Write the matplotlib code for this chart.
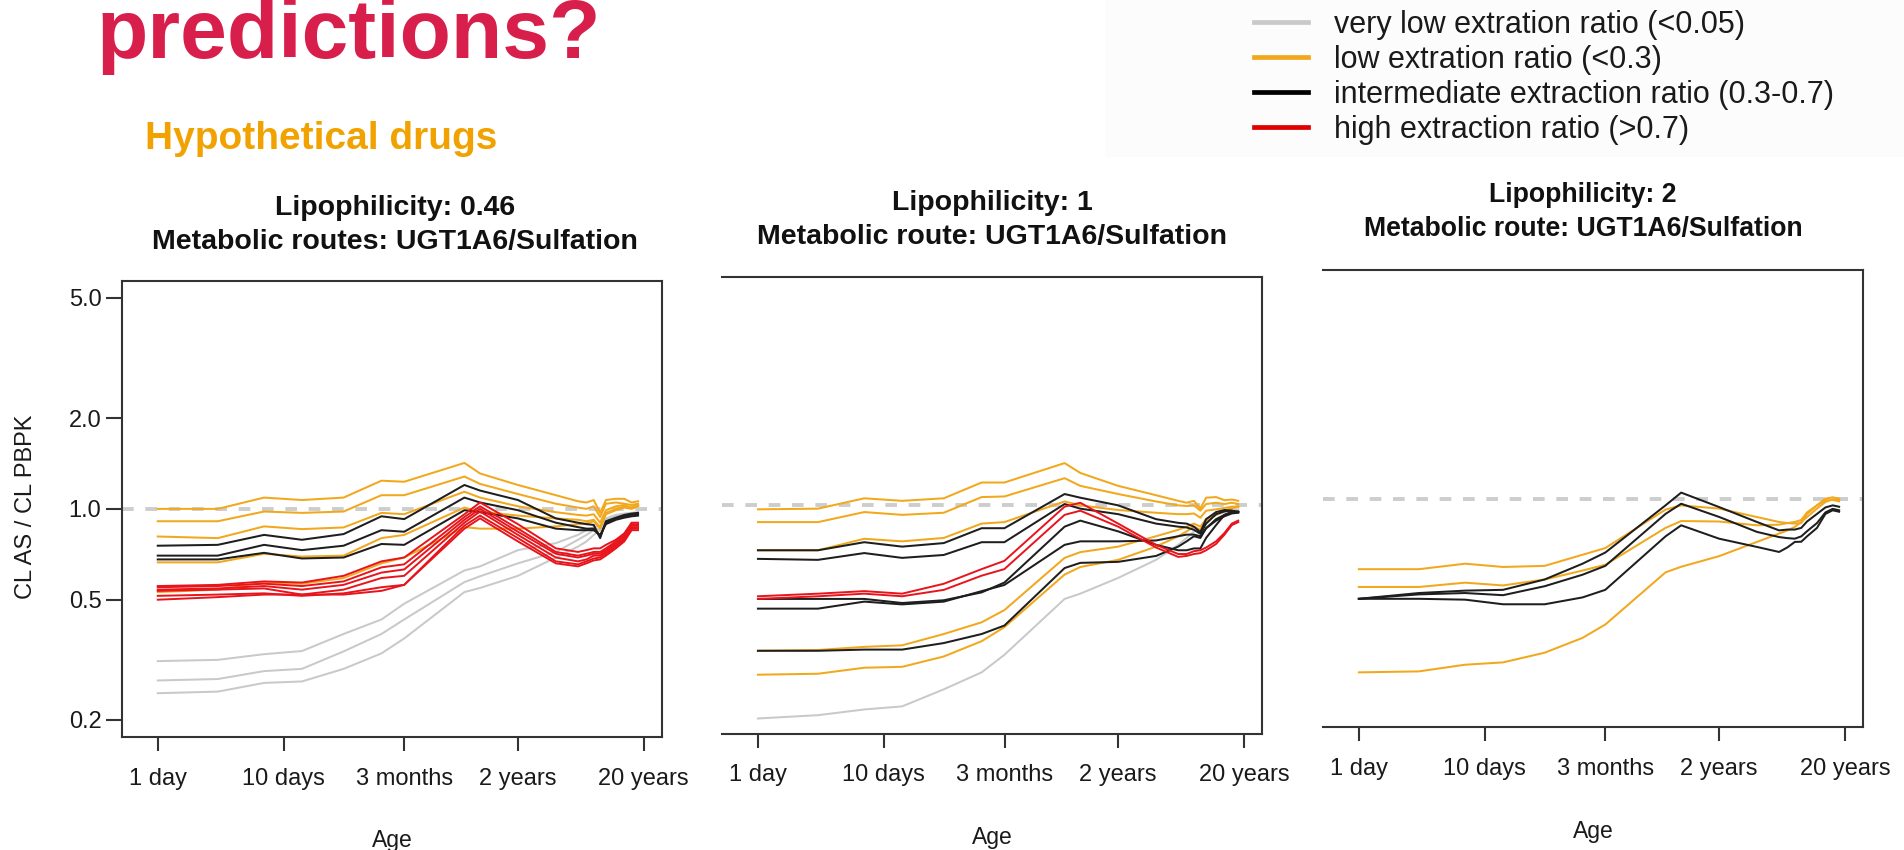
import matplotlib
matplotlib.use('Agg')
import matplotlib.pyplot as plt
from matplotlib.lines import Line2D
from matplotlib.patches import Rectangle
from matplotlib.ticker import NullLocator

plt.rcParams['font.family'] = ['Liberation Sans', 'DejaVu Sans']

# Age grid (days)
age_days = [1, 3, 7, 14, 30, 60, 91, 274, 365, 730, 1461, 2191, 2557, 2922,
            3287, 3652, 4383, 5113, 5844, 6574]

x_tick_days = [1, 10, 91.3, 730.5, 7305]
x_tick_labels = ['1 day', '10 days', '3 months', '2 years', '20 years']
y_ticks = [0.2, 0.5, 1.0, 2.0, 5.0]
y_tick_labels = ['0.2', '0.5', '1.0', '2.0', '5.0']

legend_labels = ['very low extration ratio (<0.05)',
                 'low extration ratio (<0.3)',
                 'intermediate extraction ratio (0.3-0.7)',
                 'high extraction ratio (>0.7)']

# Panel 1: lipophilicity 0.46
p1_very_low = [
    [0.313, 0.316, 0.33, 0.338, 0.385, 0.43, 0.485, 0.625, 0.645, 0.73, 0.77, 0.82, 0.85, 0.87, 0.88, 0.93, 0.955, 0.965, 0.97, 0.975],
    [0.27, 0.273, 0.29, 0.295, 0.337, 0.385, 0.43, 0.572, 0.598, 0.66, 0.72, 0.79, 0.82, 0.85, 0.86, 0.92, 0.95, 0.96, 0.965, 0.97],
    [0.245, 0.248, 0.265, 0.268, 0.295, 0.332, 0.372, 0.53, 0.547, 0.60, 0.69, 0.75, 0.78, 0.82, 0.85, 0.91, 0.94, 0.95, 0.96, 0.96],
]
p1_low = [
    [1.00, 1.00, 1.09, 1.07, 1.09, 1.24, 1.23, 1.42, 1.31, 1.20, 1.11, 1.06, 1.05, 1.07, 0.97, 1.07, 1.08, 1.08, 1.05, 1.06],
    [0.91, 0.91, 0.98, 0.97, 0.98, 1.11, 1.11, 1.28, 1.21, 1.12, 1.04, 1.01, 1.00, 1.02, 0.94, 1.04, 1.05, 1.04, 1.03, 1.04],
    [0.81, 0.80, 0.875, 0.857, 0.868, 0.97, 0.96, 1.14, 1.09, 1.02, 0.975, 0.955, 0.95, 0.96, 0.90, 0.99, 1.02, 1.03, 1.01, 1.03],
    [0.665, 0.665, 0.71, 0.695, 0.70, 0.80, 0.82, 1.01, 0.98, 0.95, 0.93, 0.92, 0.91, 0.92, 0.87, 0.97, 1.00, 1.02, 1.01, 1.03],
    [0.53, 0.54, 0.57, 0.565, 0.59, 0.66, 0.69, 0.87, 0.86, 0.86, 0.875, 0.89, 0.895, 0.91, 0.86, 0.96, 0.99, 1.01, 1.00, 1.02],
]
p1_inter = [
    [0.755, 0.76, 0.82, 0.79, 0.825, 0.945, 0.925, 1.20, 1.15, 1.07, 0.93, 0.90, 0.89, 0.885, 0.80, 0.91, 0.935, 0.955, 0.965, 0.97],
    [0.70, 0.70, 0.76, 0.73, 0.755, 0.85, 0.84, 1.09, 1.05, 0.99, 0.90, 0.87, 0.86, 0.86, 0.81, 0.90, 0.93, 0.945, 0.955, 0.96],
    [0.68, 0.68, 0.715, 0.685, 0.69, 0.765, 0.76, 0.99, 0.975, 0.93, 0.86, 0.85, 0.85, 0.85, 0.82, 0.89, 0.92, 0.935, 0.945, 0.95],
]
p1_high = [
    [0.555, 0.56, 0.575, 0.57, 0.60, 0.67, 0.69, 0.96, 1.05, 0.89, 0.74, 0.72, 0.73, 0.74, 0.74, 0.76, 0.79, 0.83, 0.90, 0.90],
    [0.55, 0.555, 0.565, 0.555, 0.575, 0.64, 0.655, 0.94, 1.02, 0.86, 0.72, 0.70, 0.71, 0.72, 0.72, 0.74, 0.78, 0.82, 0.89, 0.89],
    [0.54, 0.545, 0.555, 0.54, 0.56, 0.615, 0.63, 0.92, 1.00, 0.84, 0.71, 0.69, 0.70, 0.71, 0.71, 0.73, 0.77, 0.81, 0.88, 0.88],
    [0.535, 0.54, 0.545, 0.52, 0.54, 0.59, 0.60, 0.90, 0.98, 0.82, 0.69, 0.67, 0.68, 0.70, 0.70, 0.72, 0.76, 0.80, 0.87, 0.87],
    [0.515, 0.52, 0.525, 0.515, 0.525, 0.55, 0.56, 0.88, 0.95, 0.80, 0.67, 0.655, 0.67, 0.685, 0.69, 0.71, 0.75, 0.79, 0.86, 0.86],
    [0.50, 0.51, 0.52, 0.52, 0.52, 0.535, 0.56, 0.86, 0.93, 0.78, 0.66, 0.645, 0.66, 0.675, 0.68, 0.70, 0.74, 0.78, 0.85, 0.85],
]

# Panel 2: lipophilicity 1
p2_very_low = [
    [0.197, 0.202, 0.211, 0.216, 0.246, 0.28, 0.32, 0.49, 0.51, 0.575, 0.66, 0.74, 0.78, 0.82, 0.83, 0.89, 0.93, 0.95, 0.97, 0.97],
]
p2_low = [
    [0.97, 0.975, 1.055, 1.035, 1.055, 1.19, 1.19, 1.38, 1.28, 1.16, 1.08, 1.035, 1.02, 1.035, 0.975, 1.06, 1.065, 1.04, 1.045, 1.035],
    [0.88, 0.88, 0.95, 0.93, 0.945, 1.065, 1.07, 1.23, 1.16, 1.09, 1.03, 1.00, 0.995, 1.00, 0.96, 1.01, 1.02, 1.01, 1.02, 1.01],
    [0.71, 0.71, 0.775, 0.76, 0.78, 0.87, 0.88, 1.03, 1.00, 0.965, 0.945, 0.935, 0.935, 0.94, 0.91, 0.96, 0.97, 0.98, 0.99, 0.99],
    [0.33, 0.332, 0.34, 0.344, 0.375, 0.41, 0.45, 0.67, 0.70, 0.73, 0.79, 0.83, 0.85, 0.87, 0.85, 0.90, 0.93, 0.96, 0.98, 0.99],
    [0.275, 0.277, 0.29, 0.292, 0.316, 0.355, 0.395, 0.59, 0.625, 0.66, 0.73, 0.79, 0.82, 0.85, 0.83, 0.89, 0.93, 0.96, 0.98, 0.99],
]
p2_inter = [
    [0.71, 0.71, 0.755, 0.73, 0.75, 0.84, 0.84, 1.09, 1.06, 1.00, 0.90, 0.875, 0.87, 0.85, 0.815, 0.90, 0.95, 0.965, 0.96, 0.95],
    [0.665, 0.66, 0.695, 0.67, 0.685, 0.755, 0.755, 1.01, 0.975, 0.935, 0.87, 0.85, 0.845, 0.83, 0.805, 0.87, 0.935, 0.955, 0.96, 0.95],
    [0.49, 0.49, 0.49, 0.475, 0.485, 0.515, 0.555, 0.85, 0.89, 0.82, 0.74, 0.71, 0.71, 0.72, 0.72, 0.78, 0.86, 0.93, 0.95, 0.95],
    [0.455, 0.455, 0.48, 0.47, 0.48, 0.52, 0.545, 0.74, 0.76, 0.76, 0.765, 0.79, 0.80, 0.80, 0.79, 0.84, 0.90, 0.93, 0.95, 0.955],
    [0.33, 0.33, 0.333, 0.333, 0.35, 0.375, 0.40, 0.62, 0.645, 0.65, 0.68, 0.73, 0.76, 0.79, 0.78, 0.84, 0.89, 0.92, 0.94, 0.945],
]
p2_high = [
    [0.50, 0.51, 0.52, 0.51, 0.55, 0.615, 0.655, 0.99, 1.02, 0.87, 0.74, 0.69, 0.69, 0.705, 0.71, 0.725, 0.76, 0.81, 0.87, 0.89],
    [0.49, 0.50, 0.51, 0.50, 0.525, 0.585, 0.615, 0.93, 0.96, 0.85, 0.725, 0.675, 0.68, 0.69, 0.695, 0.71, 0.745, 0.80, 0.86, 0.88],
]

# Panel 3: lipophilicity 2
p3_very_low = []
p3_low = [
    [0.584, 0.584, 0.609, 0.594, 0.599, 0.652, 0.686, 0.92, 0.95, 0.927, 0.869, 0.837, 0.83, 0.827, 0.83, 0.89, 0.95, 1.00, 1.01, 1.00],
    [0.51, 0.51, 0.527, 0.516, 0.54, 0.578, 0.604, 0.80, 0.843, 0.84, 0.816, 0.82, 0.83, 0.837, 0.85, 0.90, 0.95, 0.987, 0.99, 0.98],
    [0.266, 0.268, 0.282, 0.287, 0.309, 0.346, 0.383, 0.57, 0.595, 0.645, 0.719, 0.766, 0.785, 0.806, 0.837, 0.869, 0.927, 0.975, 0.995, 0.99],
]
p3_inter = [
    [0.466, 0.487, 0.496, 0.499, 0.54, 0.609, 0.663, 0.95, 1.047, 0.938, 0.837, 0.785, 0.79, 0.79, 0.80, 0.84, 0.89, 0.935, 0.95, 0.94],
    [0.466, 0.482, 0.487, 0.479, 0.513, 0.56, 0.599, 0.89, 0.962, 0.87, 0.776, 0.746, 0.74, 0.737, 0.75, 0.78, 0.83, 0.90, 0.925, 0.915],
    [0.466, 0.466, 0.463, 0.447, 0.447, 0.471, 0.499, 0.75, 0.816, 0.737, 0.692, 0.666, 0.69, 0.719, 0.72, 0.75, 0.80, 0.89, 0.915, 0.905],
]
p3_high = []

titles = ['Lipophilicity: 0.46\nMetabolic routes: UGT1A6/Sulfation',
          'Lipophilicity: 1\nMetabolic route: UGT1A6/Sulfation',
          'Lipophilicity: 2\nMetabolic route: UGT1A6/Sulfation']

col_very_low = '#C9C9C9'
col_low = '#F2A81D'
col_inter = '#1E1E1E'
col_high = '#E8141C'

W, H = 1904, 850
fig = plt.figure(figsize=(W / 100, H / 100), dpi=100)


def box(left, right, top, bottom):
    return [left / W, 1 - bottom / H, (right - left) / W, (bottom - top) / H]


# faint background behind the legend
fig.patches.append(Rectangle((1105 / W, 1 - 157 / H), (W - 1105) / W, 157 / H,
                             transform=fig.transFigure, facecolor='#FCFCFC',
                             edgecolor='none', zorder=0))

boxes = [box(121.6, 662.2, 280.8, 737), box(721.8, 1262.4, 277, 733.7),
         box(1322.7, 1863.3, 270.3, 727)]
panels = [(p1_very_low, p1_low, p1_inter, p1_high),
          (p2_very_low, p2_low, p2_inter, p2_high),
          (p3_very_low, p3_low, p3_inter, p3_high)]
title_pads = [23, 24, 25]
title_sizes = [20.5, 20.5, 19.2]
title_x = [0.505, 0.5, 0.482]

for i in range(3):
    ax = fig.add_axes(boxes[i])
    ax.set_xscale('log')
    ax.set_yscale('log')
    ax.axhline(1.0, color='#CDCDCD', lw=2.8, ls=(0, (3, 3)), zorder=1)
    very_low, low, inter, high = panels[i]
    for vals in very_low:
        ax.plot(age_days, vals, color=col_very_low, lw=1.45, zorder=2)
    for vals in low:
        ax.plot(age_days, vals, color=col_low, lw=1.45, zorder=3)
    for vals in inter:
        ax.plot(age_days, vals, color=col_inter, lw=1.45, zorder=4)
    for vals in high:
        ax.plot(age_days, vals, color=col_high, lw=1.4, zorder=5)

    ax.set_xlim(0.516, 10233)
    ax.set_ylim(0.1754, 5.70)
    ax.set_xticks(x_tick_days)
    ax.set_xticklabels(x_tick_labels)
    ax.xaxis.set_minor_locator(NullLocator())
    ax.yaxis.set_minor_locator(NullLocator())
    ax.tick_params(axis='x', length=10, width=1.5, pad=12, labelsize=17,
                   color='#333333', labelcolor='#1A1A1A')
    if i == 0:
        ax.set_yticks(y_ticks)
        ax.set_yticklabels(y_tick_labels)
        ax.tick_params(axis='y', length=11.5, width=1.5, pad=3, labelsize=17,
                       color='#333333', labelcolor='#1A1A1A')
    else:
        ax.set_yticks([])
        ax.spines['left'].set_visible(False)
    for s in ['top', 'right', 'bottom', 'left']:
        ax.spines[s].set_color('#333333')
        ax.spines[s].set_linewidth(1.5)

    ax.set_title(titles[i], fontsize=title_sizes[i], fontweight='bold',
                 pad=title_pads[i], linespacing=1.4, color='#111111',
                 x=title_x[i])
    ax.text(0.5, -104 / 456.5, 'Age', transform=ax.transAxes, ha='center',
            va='center', fontsize=16.5, color='#1A1A1A')

fig.text(26 / W, 1 - 507 / H, 'CL AS / CL PBPK', rotation=90, ha='center',
         va='center', fontsize=17, color='#1A1A1A')

fig.text(96 / W, 1 - 58 / H, 'predictions?', fontsize=60.5, fontweight='bold',
         color='#D81F4C', ha='left', va='baseline')
fig.text(145 / W, 1 - 149 / H, 'Hypothetical drugs', fontsize=28,
         fontweight='bold', color='#F2A200', ha='left', va='baseline')

handles = [Line2D([], [], color=c, lw=3.4)
           for c in [col_very_low, col_low, '#000000', '#E00000']]
fig.legend(handles, legend_labels, loc='upper left',
           bbox_to_anchor=(1254 / W, 1 - 9.5 / H), frameon=False, fontsize=22,
           handlelength=1.76, handletextpad=0.85, labelspacing=0.17,
           borderpad=0, borderaxespad=0, labelcolor='#1A1A1A')

fig.savefig('out.png', dpi=100)
